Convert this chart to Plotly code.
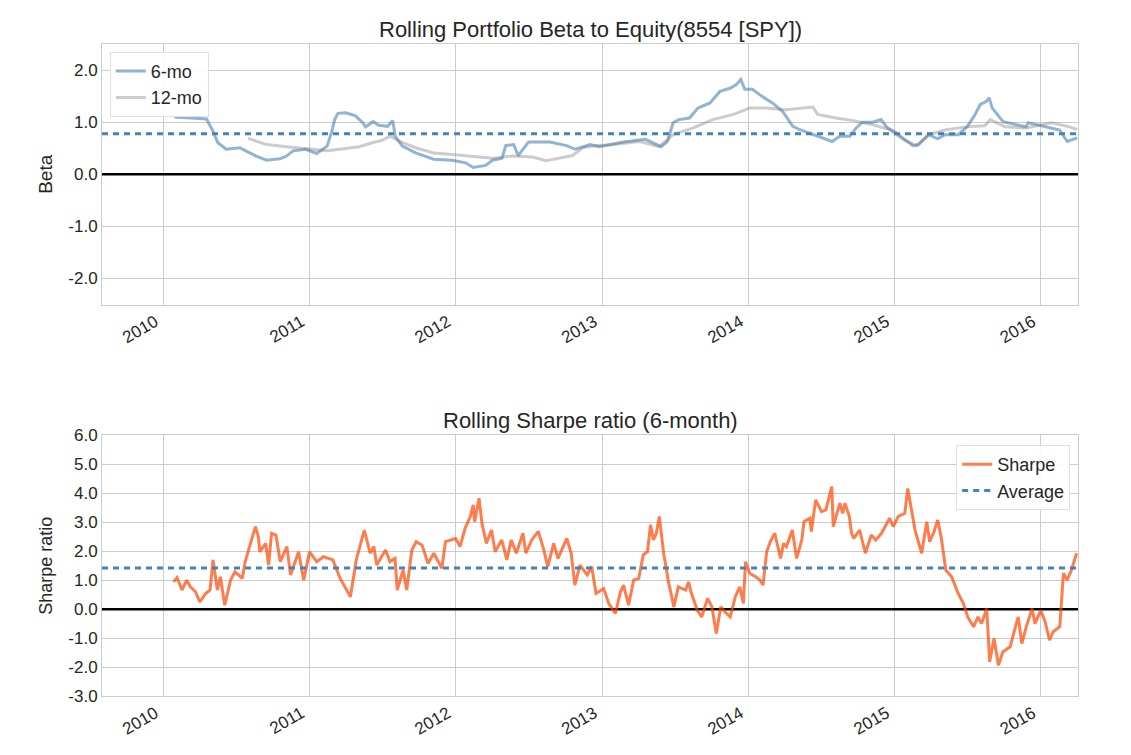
import pandas as pd
import plotly.graph_objects as go
from plotly.subplots import make_subplots

# rolling beta, 6-month window
beta6_dates = [
    "2010-01-29", "2010-04-01", "2010-04-19", "2010-05-03", "2010-05-17", "2010-06-07",
    "2010-07-11", "2010-07-26", "2010-08-21", "2010-09-16", "2010-10-19", "2010-11-05",
    "2010-11-21", "2010-12-23", "2011-01-19", "2011-02-14", "2011-02-25", "2011-03-05",
    "2011-03-13", "2011-04-02", "2011-04-26", "2011-05-14", "2011-05-21", "2011-06-09",
    "2011-06-23", "2011-07-15", "2011-07-28", "2011-08-03", "2011-08-21", "2011-09-23",
    "2011-11-07", "2011-12-23", "2012-01-26", "2012-02-14", "2012-03-16", "2012-04-02",
    "2012-04-26", "2012-05-05", "2012-05-25", "2012-06-05", "2012-06-16", "2012-07-01",
    "2012-08-23", "2012-10-04", "2012-10-26", "2012-11-07", "2012-12-02", "2012-12-25",
    "2013-02-23", "2013-04-19", "2013-05-28", "2013-06-13", "2013-06-27", "2013-07-11",
    "2013-08-07", "2013-08-28", "2013-09-27", "2013-10-22", "2013-11-16", "2013-12-02",
    "2013-12-13", "2013-12-23", "2014-01-11", "2014-02-03", "2014-03-02", "2014-03-27",
    "2014-04-22", "2014-05-08", "2014-06-11", "2014-07-04", "2014-07-29", "2014-08-17",
    "2014-09-11", "2014-09-27", "2014-10-13", "2014-11-07", "2014-11-28", "2014-12-14",
    "2015-01-04", "2015-01-26", "2015-02-16", "2015-03-02", "2015-03-27", "2015-04-19",
    "2015-05-07", "2015-06-09", "2015-07-01", "2015-07-19", "2015-08-03", "2015-08-19",
    "2015-08-25", "2015-09-02", "2015-09-29", "2015-10-22", "2015-11-25", "2015-12-01",
    "2016-01-15", "2016-02-17", "2016-03-07", "2016-04-01",
]
beta6 = [
    1.10, 1.08, 1.06, 0.86, 0.61, 0.48,
    0.51, 0.45, 0.35, 0.27, 0.30, 0.35,
    0.45, 0.48, 0.40, 0.54, 0.80, 1.05,
    1.17, 1.18, 1.12, 0.99, 0.91, 1.01,
    0.94, 0.92, 1.03, 0.73, 0.54, 0.41,
    0.29, 0.27, 0.22, 0.13, 0.17, 0.27,
    0.31, 0.55, 0.57, 0.36, 0.48, 0.62,
    0.62, 0.55, 0.48, 0.51, 0.57, 0.53,
    0.62, 0.67, 0.53, 0.63, 0.99, 1.05,
    1.08, 1.27, 1.37, 1.59, 1.65, 1.72,
    1.82, 1.63, 1.63, 1.50, 1.37, 1.21,
    0.92, 0.86, 0.76, 0.70, 0.63, 0.73,
    0.73, 0.89, 1.00, 1.00, 1.05, 0.89,
    0.80, 0.67, 0.55, 0.57, 0.76, 0.68,
    0.76, 0.76, 0.91, 1.12, 1.34, 1.40,
    1.47, 1.27, 1.01, 0.97, 0.91, 0.99,
    0.91, 0.85, 0.63, 0.70,
]

# rolling beta, 12-month window
beta12_dates = [
    "2010-08-01", "2010-09-16", "2010-11-05", "2010-12-23", "2011-02-14", "2011-03-16",
    "2011-05-05", "2011-06-09", "2011-07-01", "2011-07-22", "2011-08-14", "2011-09-23",
    "2011-11-07", "2011-12-23", "2012-02-14", "2012-04-02", "2012-05-21", "2012-07-11",
    "2012-08-14", "2012-09-16", "2012-10-19", "2012-11-14", "2012-12-16", "2013-01-29",
    "2013-04-04", "2013-05-23", "2013-06-27", "2013-08-16", "2013-10-04", "2013-11-25",
    "2014-01-04", "2014-02-14", "2014-04-04", "2014-06-11", "2014-06-23", "2014-08-07",
    "2014-09-20", "2014-11-07", "2014-12-20", "2015-01-22", "2015-02-25", "2015-03-27",
    "2015-05-07", "2015-06-27", "2015-08-14", "2015-08-28", "2015-10-04", "2015-11-25",
    "2016-01-29", "2016-03-13", "2016-04-01",
]
beta12 = [
    0.69, 0.57, 0.53, 0.49, 0.45, 0.48,
    0.53, 0.61, 0.65, 0.73, 0.63, 0.51,
    0.41, 0.38, 0.35, 0.31, 0.35, 0.33,
    0.26, 0.31, 0.36, 0.51, 0.55, 0.57,
    0.63, 0.53, 0.76, 0.89, 1.05, 1.15,
    1.27, 1.27, 1.24, 1.29, 1.15, 1.08,
    1.03, 0.95, 0.86, 0.67, 0.55, 0.76,
    0.85, 0.91, 0.93, 1.05, 0.91, 0.89,
    0.99, 0.91, 0.86,
]
beta_avg = 0.78

# rolling sharpe ratio (6-month); time given as decimal years
sharpe_t = [
    2010.070, 2010.094, 2010.128, 2010.160, 2010.185, 2010.220, 2010.250, 2010.290,
    2010.320, 2010.340, 2010.370, 2010.390, 2010.420, 2010.460, 2010.490, 2010.540,
    2010.560, 2010.595, 2010.630, 2010.650, 2010.660, 2010.700, 2010.720, 2010.740,
    2010.770, 2010.800, 2010.845, 2010.870, 2010.925, 2010.960, 2011.000, 2011.050,
    2011.095, 2011.160, 2011.210, 2011.280, 2011.320, 2011.375, 2011.415, 2011.440,
    2011.460, 2011.520, 2011.550, 2011.585, 2011.600, 2011.640, 2011.665, 2011.700,
    2011.730, 2011.770, 2011.810, 2011.850, 2011.905, 2011.930, 2012.000, 2012.030,
    2012.065, 2012.100, 2012.120, 2012.130, 2012.160, 2012.180, 2012.210, 2012.245,
    2012.270, 2012.315, 2012.350, 2012.380, 2012.415, 2012.460, 2012.480, 2012.520,
    2012.565, 2012.600, 2012.630, 2012.670, 2012.700, 2012.760, 2012.790, 2012.815,
    2012.850, 2012.900, 2012.930, 2012.960, 2013.010, 2013.045, 2013.090, 2013.125,
    2013.146, 2013.180, 2013.215, 2013.250, 2013.280, 2013.310, 2013.330, 2013.350,
    2013.370, 2013.390, 2013.420, 2013.455, 2013.490, 2013.520, 2013.570, 2013.590,
    2013.610, 2013.650, 2013.680, 2013.720, 2013.750, 2013.780, 2013.810, 2013.840,
    2013.875, 2013.910, 2013.940, 2013.965, 2013.980, 2014.010, 2014.050, 2014.080,
    2014.100, 2014.125, 2014.150, 2014.180, 2014.220, 2014.240, 2014.260, 2014.300,
    2014.330, 2014.365, 2014.380, 2014.420, 2014.430, 2014.460, 2014.500, 2014.530,
    2014.570, 2014.580, 2014.625, 2014.645, 2014.660, 2014.690, 2014.705, 2014.720,
    2014.760, 2014.800, 2014.840, 2014.870, 2014.910, 2014.965, 2014.990, 2015.025,
    2015.070, 2015.090, 2015.115, 2015.140, 2015.185, 2015.220, 2015.240, 2015.270,
    2015.295, 2015.320, 2015.350, 2015.390, 2015.435, 2015.470, 2015.500, 2015.540,
    2015.570, 2015.595, 2015.630, 2015.650, 2015.680, 2015.710, 2015.740, 2015.790,
    2015.820, 2015.845, 2015.870, 2015.900, 2015.940, 2015.960, 2016.000, 2016.030,
    2016.060, 2016.085, 2016.130, 2016.155, 2016.180, 2016.210, 2016.245,
]
sharpe = [
    0.94, 1.09, 0.66, 1.00, 0.77, 0.60, 0.25, 0.54,
    0.66, 1.70, 0.66, 1.12, 0.14, 1.00, 1.29, 1.06,
    1.64, 2.21, 2.85, 2.50, 1.98, 2.27, 1.52, 2.62,
    2.56, 1.64, 2.16, 1.18, 1.98, 1.00, 1.98, 1.64,
    1.81, 1.70, 1.06, 0.43, 1.70, 2.73, 1.93, 2.16,
    1.52, 2.04, 1.64, 1.75, 0.66, 1.35, 0.66, 2.04,
    2.33, 2.21, 1.58, 1.93, 1.41, 2.33, 2.44, 2.16,
    2.79, 3.20, 3.60, 3.02, 3.83, 2.96, 2.27, 2.73,
    1.98, 2.39, 1.70, 2.39, 1.93, 2.62, 1.93, 2.39,
    2.68, 2.10, 1.47, 2.27, 1.75, 2.44, 1.93, 0.83,
    1.52, 1.18, 1.47, 0.54, 0.71, 0.19, -0.15, 0.60,
    0.83, 0.14, 1.00, 1.06, 1.87, 1.98, 2.91, 2.39,
    2.62, 3.20, 1.93, 0.89, 0.08, 0.77, 0.66, 0.94,
    0.54, -0.04, -0.27, 0.37, 0.08, -0.84, 0.08, -0.10,
    -0.27, 0.43, 0.77, 0.20, 1.64, 1.23, 1.12, 1.00,
    0.83, 1.98, 2.33, 2.62, 1.75, 2.27, 2.16, 2.73,
    1.75, 2.39, 3.02, 3.14, 2.68, 3.77, 3.37, 3.43,
    4.23, 2.85, 3.66, 3.31, 3.66, 3.20, 2.62, 2.44,
    2.73, 1.93, 2.56, 2.39, 2.62, 3.14, 2.85, 3.20,
    3.31, 4.17, 3.43, 2.73, 1.93, 3.02, 2.33, 2.68,
    3.08, 2.44, 1.35, 1.12, 0.54, 0.20, -0.27, -0.61,
    -0.27, -0.50, 0.02, -1.82, -1.01, -1.94, -1.48, -1.30,
    -0.73, -0.27, -1.19, -0.61, 0.02, -0.50, -0.04, -0.44,
    -1.07, -0.78, -0.61, 1.24, 1.00, 1.35, 1.93,
]
sharpe_avg = 1.42

beta_ticks = [-2, -1, 0, 1, 2]
sharpe_ticks = [-3, -2, -1, 0, 1, 2, 3, 4, 5, 6]

x_range = ["2009-08-01", "2016-04-03"]


def year_to_date(t):
    y = int(t)
    return pd.Timestamp(year=y, month=1, day=1) + pd.Timedelta(days=(t - y) * 365.25)


sharpe_dates = [year_to_date(t) for t in sharpe_t]

FONT = "Liberation Sans, Arial, sans-serif"
TXT = "#262626"
GRID = "#cccccc"
DASH = "6px,5px"

fig = make_subplots(rows=2, cols=1, vertical_spacing=0.2006,
                    subplot_titles=("Rolling Portfolio Beta to Equity(8554 [SPY])",
                                    "Rolling Sharpe ratio (6-month)"))

# top panel: beta
fig.add_trace(go.Scatter(x=x_range, y=[0, 0], mode="lines", showlegend=False,
                         line=dict(color="black", width=2.5)), row=1, col=1)
fig.add_trace(go.Scatter(x=beta6_dates, y=beta6, name="6-mo", mode="lines", legend="legend",
                         line=dict(color="rgba(70,130,180,0.6)", width=3)), row=1, col=1)
fig.add_trace(go.Scatter(x=beta12_dates, y=beta12, name="12-mo", mode="lines", legend="legend",
                         line=dict(color="rgba(128,128,128,0.4)", width=3)), row=1, col=1)
fig.add_trace(go.Scatter(x=x_range, y=[beta_avg, beta_avg], mode="lines", showlegend=False,
                         line=dict(color="steelblue", width=3, dash=DASH)), row=1, col=1)

# bottom panel: sharpe
fig.add_trace(go.Scatter(x=x_range, y=[0, 0], mode="lines", showlegend=False,
                         line=dict(color="black", width=2.5)), row=2, col=1)
fig.add_trace(go.Scatter(x=sharpe_dates, y=sharpe, name="Sharpe", mode="lines", legend="legend2",
                         line=dict(color="rgba(255,69,0,0.7)", width=3)), row=2, col=1)
fig.add_trace(go.Scatter(x=x_range, y=[sharpe_avg, sharpe_avg], name="Average", mode="lines",
                         legend="legend2",
                         line=dict(color="steelblue", width=3, dash=DASH)), row=2, col=1)

axis_style = dict(showgrid=True, gridcolor=GRID, gridwidth=1, zeroline=False,
                  showline=True, linecolor=GRID, linewidth=1, mirror=True, ticks="",
                  tickfont=dict(size=17, color=TXT, family=FONT))

for r in (1, 2):
    fig.update_xaxes(axis_style, range=x_range, type="date", dtick="M12", tick0="2010-01-01",
                     tickformat="%Y", tickangle=-30, ticklabelshift=-8, row=r, col=1)

# matplotlib-style hyphen minus on the tick labels
fig.update_yaxes(axis_style, range=[-2.5, 2.5], tickvals=beta_ticks,
                 ticktext=[f"{v:.1f}" for v in beta_ticks],
                 title=dict(text="Beta", font=dict(size=19, color=TXT, family=FONT), standoff=10),
                 row=1, col=1)
fig.update_yaxes(axis_style, range=[-3, 6], tickvals=sharpe_ticks,
                 ticktext=[f"{v:.1f}" for v in sharpe_ticks],
                 title=dict(text="Sharpe ratio", font=dict(size=18, color=TXT, family=FONT), standoff=10),
                 row=2, col=1)

for ann in fig.layout.annotations:
    ann.font = dict(size=22, color=TXT, family=FONT)

fig.update_layout(
    width=1131, height=755,
    margin=dict(l=94, r=61, t=36, b=67),
    paper_bgcolor="white", plot_bgcolor="white",
    font=dict(family=FONT, color=TXT),
    legend=dict(x=0.008, y=0.988, xanchor="left", yanchor="top",
                bgcolor="rgba(255,255,255,0.9)", bordercolor="#e0e0e0", borderwidth=1,
                font=dict(size=18, color=TXT, family=FONT)),
    legend2=dict(x=0.992, y=0.385, xanchor="right", yanchor="top",
                 bgcolor="rgba(255,255,255,0.9)", bordercolor="#e0e0e0", borderwidth=1,
                 font=dict(size=18, color=TXT, family=FONT)),
)

fig.write_html("out.html")
